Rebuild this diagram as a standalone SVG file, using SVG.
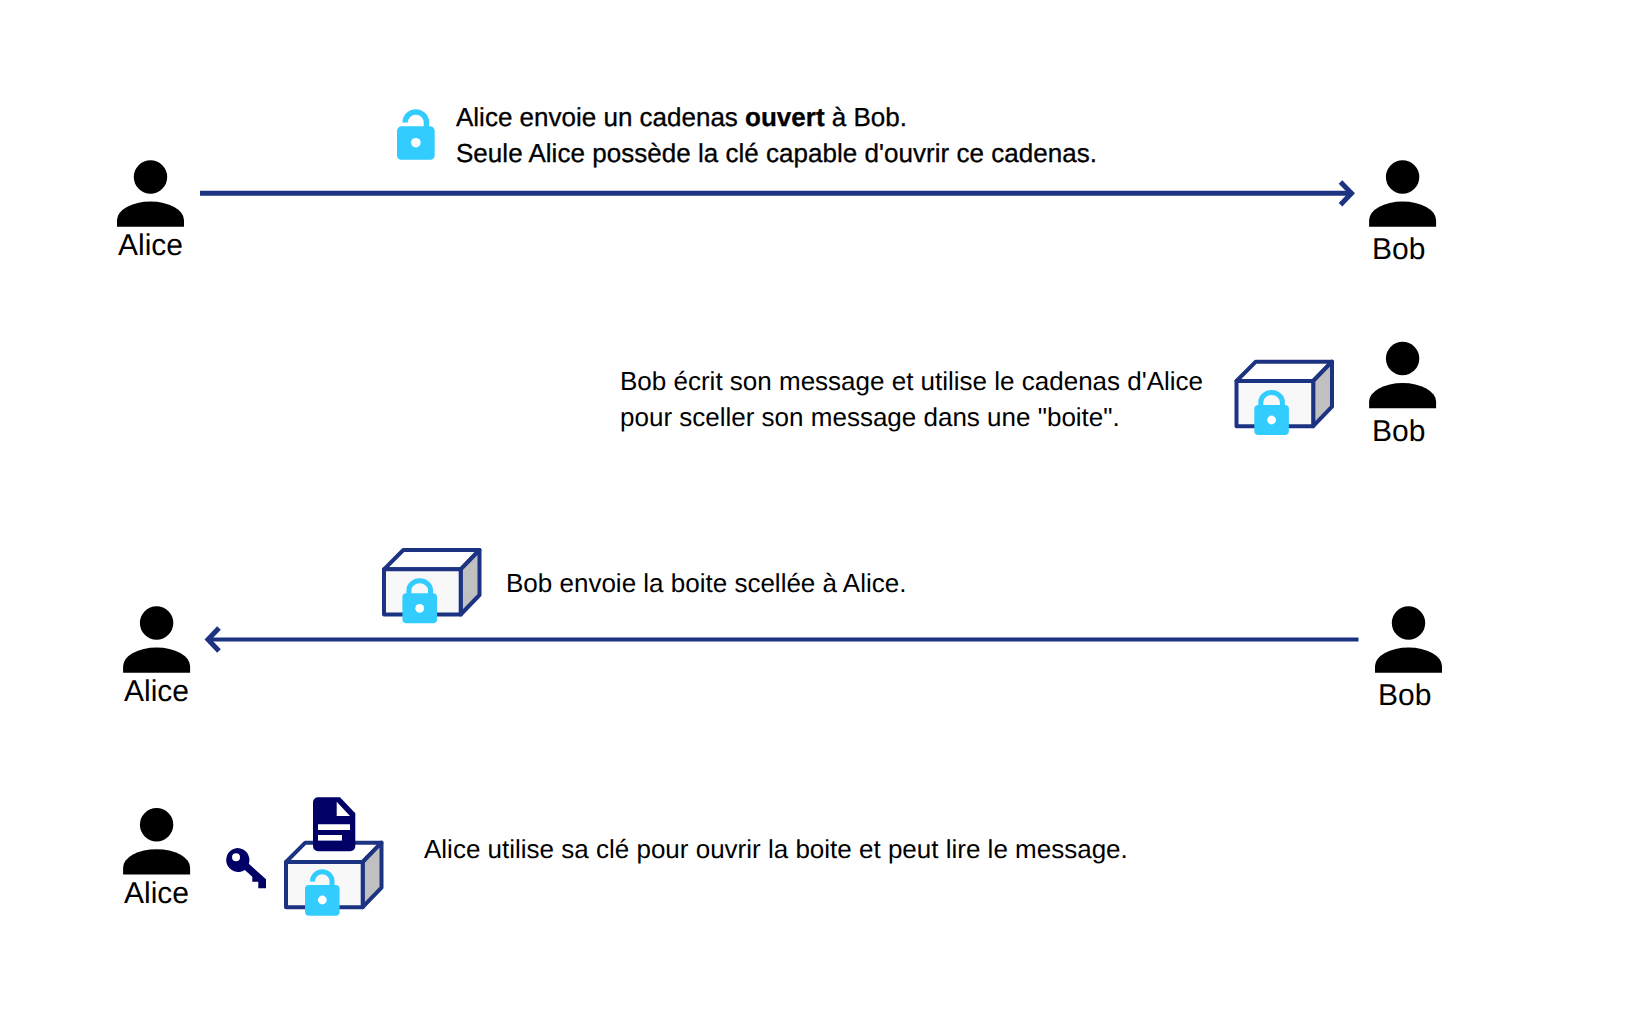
<svg xmlns="http://www.w3.org/2000/svg" width="1634" height="1020" viewBox="0 0 1634 1020">
<style>
text{font-family:"Liberation Sans",Arial,sans-serif;fill:#000;text-rendering:geometricPrecision}
.n{font-size:30px}
.m{font-size:26px}
.d{stroke:#000;stroke-width:.3}
.c{fill:none;stroke:#1c3381}
.b{stroke:#1c3381;stroke-width:4;stroke-linejoin:round}
.l{fill:#33ccff}
</style>
<defs>
<g id="person"><circle cx="0" cy="0" r="16.7"/><path d="M-33.5 49.700V43A33.500 18.500 0 0 1 33.500 43V49.700Z"/></g>
<g id="box">
<path class="b" fill="#fff" d="M0 19.300L19.300 0H95.500L76.700 19.300Z"/>
<path class="b" fill="#c0c0c0" d="M76.700 19.300L95.500 0V45L76.700 64.500Z"/>
<rect class="b" fill="#f8f8f8" x="0" y="19.300" width="76.700" height="45.200"/>
</g>
<g id="closed">
<path d="M6.500 17V12A10.800 9.500 0 0 1 28.100 12V17" fill="none" stroke="#33ccff" stroke-width="5"/>
<rect class="l" x="0" y="15" width="34.600" height="30" rx="4"/>
<circle cx="17.300" cy="30" r="4.400" fill="#fff"/>
</g>
<g id="open">
<path d="M7.500 11.500A9.750 9.750 0 0 1 27 11.500V18" fill="none" stroke="#33ccff" stroke-width="5"/>
<rect class="l" x="0" y="15" width="34.600" height="30.700" rx="4"/>
<circle cx="17.300" cy="30" r="4.400" fill="#fff"/>
</g>
</defs>
<g id="connectors">
<path class="c" stroke-width="5" d="M200 193.300H1351"/>
<path class="c" stroke-width="5" d="M1340.500 182L1351.500 193.300L1340.500 204.700"/>
<path class="c" stroke-width="4" d="M1358.500 639.500H208"/>
<path class="c" stroke-width="5" d="M219 628L208 639.500L219 651"/>
</g>
<g id="alice1"><use href="#person" x="150.500" y="177"/><text class="n" x="118" y="255">Alice</text></g>
<g id="bob1"><use href="#person" x="1402.600" y="177"/><text class="n" x="1372" y="259">Bob</text></g>
<g id="lock1"><use href="#open" transform="translate(397 110) scale(1.09)"/></g>
<g id="msg1"><text class="m d" x="456" y="126">Alice envoie un cadenas <tspan font-weight="700">ouvert</tspan> à Bob.</text><text class="m d" x="456" y="162" textLength="641">Seule Alice possède la clé capable d'ouvrir ce cadenas.</text></g>
<g id="bob2"><use href="#person" x="1402.600" y="358.500"/><text class="n" x="1372" y="440.500">Bob</text></g>
<g id="box1"><use href="#box" x="1236.500" y="361.700"/><use href="#closed" x="1254.300" y="390"/></g>
<g id="msg2"><text class="m" x="620" y="390">Bob écrit son message et utilise le cadenas d'Alice</text><text class="m" x="620" y="426">pour sceller son message dans une "boite".</text></g>
<g id="alice3"><use href="#person" x="156.600" y="623"/><text class="n" x="124" y="701">Alice</text></g>
<g id="bob3"><use href="#person" x="1408.500" y="623"/><text class="n" x="1378" y="705">Bob</text></g>
<g id="box2"><use href="#box" x="384" y="550"/><use href="#closed" x="402.400" y="578.300"/></g>
<g id="msg3"><text class="m" x="506" y="592">Bob envoie la boite scellée à Alice.</text></g>
<g id="alice4"><use href="#person" x="156.600" y="824.700"/><text class="n" x="124" y="903">Alice</text></g>
<g id="key"><path fill="#000066" fill-rule="evenodd" d="M237.700 848A12 12 0 0 1 248.800 863.800L266 879.300V888.300H258.300V881.700H252.300V876.700L244.800 870A12 12 0 1 1 237.700 848ZM236 853.300A4 4 0 1 0 236.100 861.300A4 4 0 1 0 236 853.300Z"/></g>
<g id="box3"><use href="#box" x="286" y="842.700"/><use href="#open" x="305" y="870"/></g>
<g id="doc"><path fill="#000066" fill-rule="evenodd" d="M318 797.300H340L355.300 813.300V846.300A5 5 0 0 1 350.300 851.300H318A5 5 0 0 1 313 846.300V802.300A5 5 0 0 1 318 797.300ZM336.700 801.700V816H350ZM318 824.300V830H350V824.300ZM318 835V840.700H342V835Z"/></g>
<g id="msg4"><text class="m" x="424" y="858">Alice utilise sa clé pour ouvrir la boite et peut lire le message.</text></g>
</svg>
